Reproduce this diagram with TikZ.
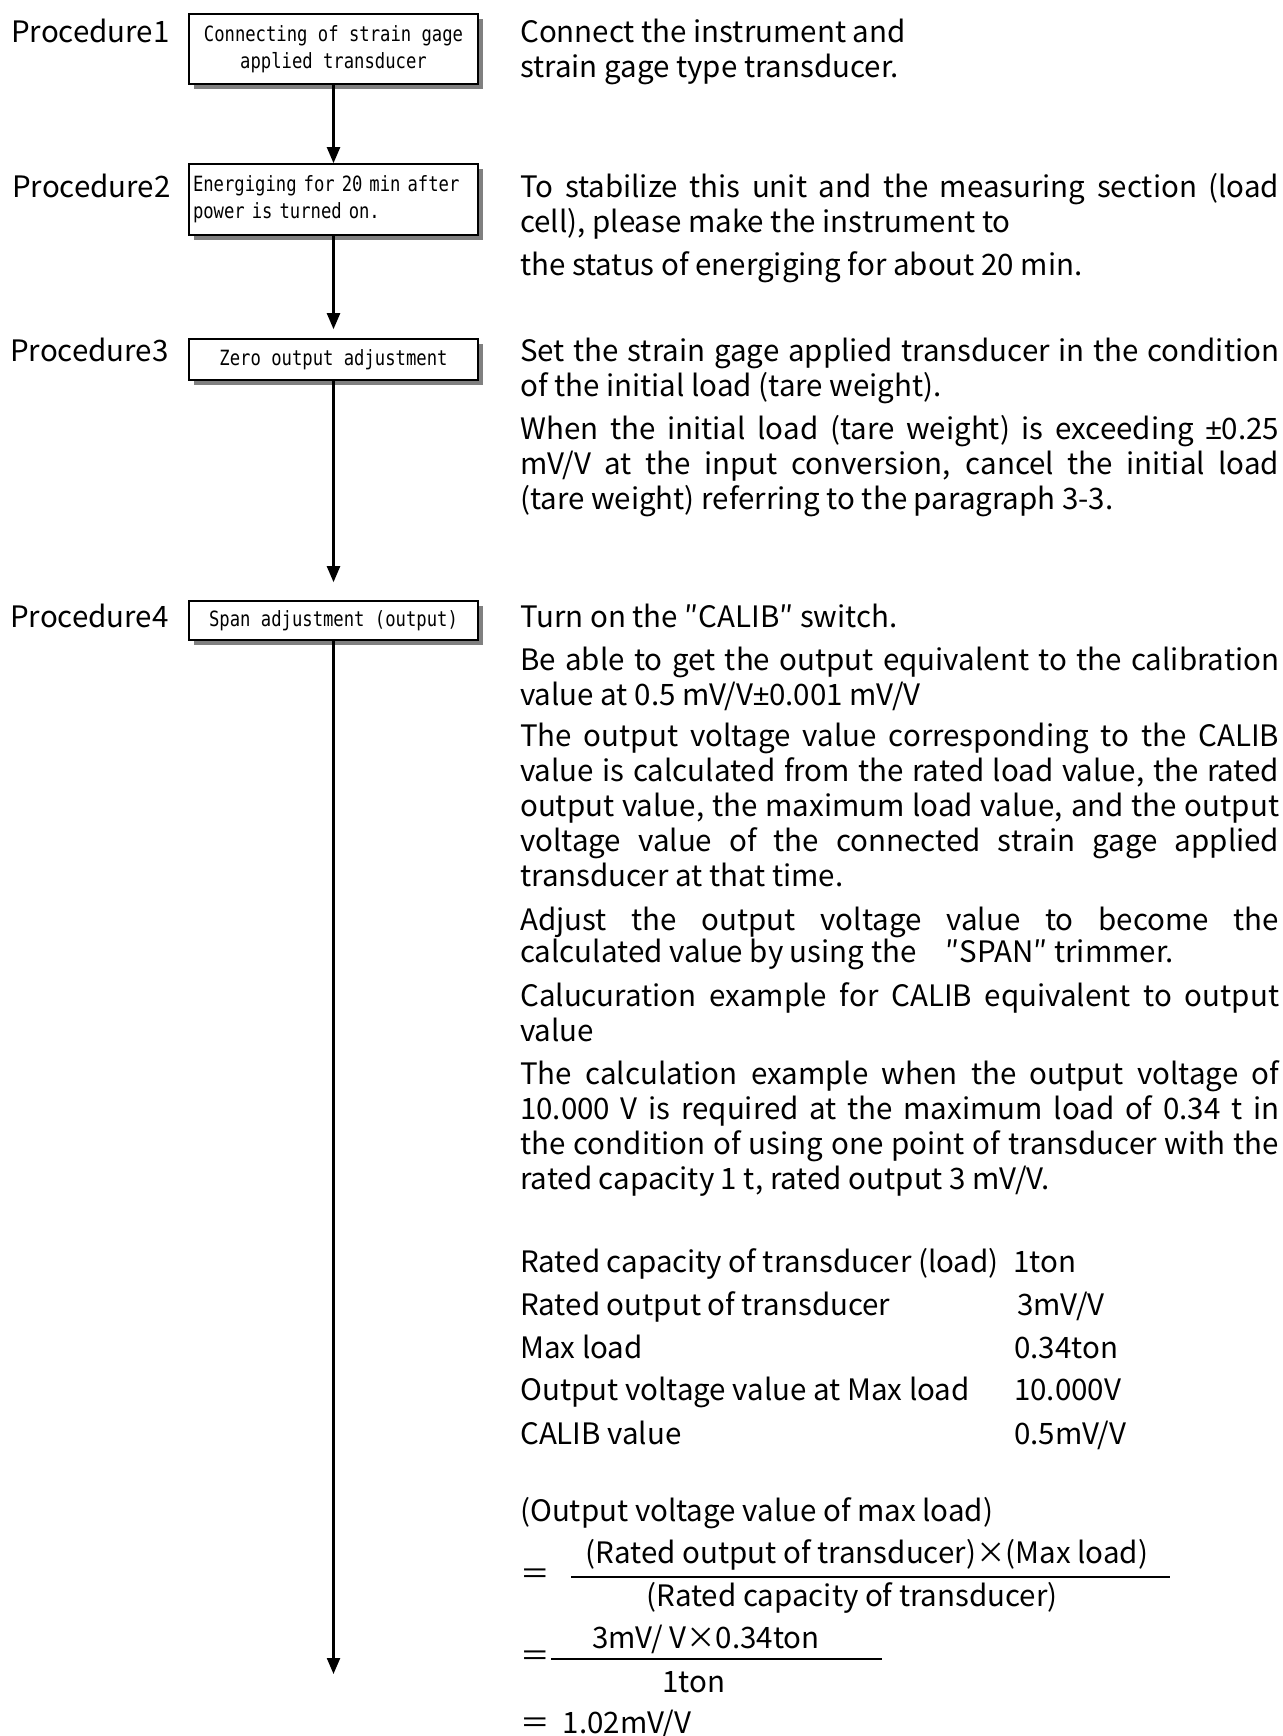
\documentclass[tikz,border=0pt]{standalone}
\usepackage{fontspec}
\setmainfont{Noto Sans CJK JP}
\newfontfamily\boxfont[FakeStretch=0.82]{DejaVu Sans Mono}
\newfontfamily\pmfont{Liberation Sans}
\newcommand{\pmsign}{{\pmfont ±}}
\usetikzlibrary{arrows.meta,shadows}

\tikzset{
  proc/.style={anchor=base west, inner sep=0pt, font=\fontsize{29.5}{35}\selectfont},
  stepbox/.style={draw, line width=1.6pt, fill=white, minimum width=289pt, inner sep=3pt,
    font=\fontsize{21}{27}\boxfont,
    drop shadow={shadow xshift=5pt, shadow yshift=-5pt, fill=black!50, opacity=1}},
  flow/.style={line width=2.2pt, -{Triangle[width=13pt,length=16pt]}},
  para/.style={anchor=base west, inner sep=0pt, text width=759pt, align=justify,
    font=\fontsize{29.5}{35}\selectfont},
  val/.style={anchor=base west, inner sep=0pt, font=\fontsize{29.5}{35}\selectfont}
}

\begin{document}
\begin{tikzpicture}[x=1pt, y=-1pt]
    \useasboundingbox (0,0) rectangle (1282,1736);

    % procedure labels
    \node [proc] (p1) at (11,43) {Procedure1};
    \node [proc] (p2) at (12,198) {Procedure2};
    \node [proc] (p3) at (10,361) {Procedure3};
    \node [proc] (p4) at (10,627) {Procedure4};

    % flow boxes
    \node [stepbox, minimum height=70pt, align=center] (box1) at (333.5,49) {Connecting of strain gage\\applied transducer};
    \node [stepbox, minimum height=71pt, text width=281pt, align=left] (box2) at (333.5,199.5) {Energiging for 20 min after\\power is turned on.};
    \node [stepbox, minimum height=41pt] (box3) at (333.5,359.5) {Zero output adjustment};
    \node [stepbox, minimum height=39pt] (box4) at (333.5,620.5) {Span adjustment (output)};
    \coordinate (end) at (333.5,1674);

    \draw [flow] (box1) -- (box2);
    \draw [flow, shorten >=9pt] (box2) -- (box3);
    \draw [flow, shorten >=18pt] (box3) -- (box4);
    \draw [flow] (box4) -- (end);

    % explanations
    \node [para] (t1) at (520,43) {Connect the instrument and\\strain gage type transducer.};
    \node [para] (t2a) at (520,198) {To stabilize this unit and the measuring section (load\linebreak cell), please make the instrument to};
    \node [para] (t2b) at (520,276) {the status of energiging for about 20 min.};
    \node [para] (t3a) at (520,361) {Set the strain gage applied transducer in the condition\linebreak of the initial load (tare weight).};
    \node [para] (t3b) at (520,439) {When the initial load (tare weight) is exceeding \pmsign0.25\linebreak mV/V at the input conversion, cancel the initial load\linebreak (tare weight) referring to the paragraph 3-3.};
    \node [para] (t4a) at (520,627) {Turn on the ″CALIB″ switch.};
    \node [para] (t4b) at (520,670) {Be able to get the output equivalent to the calibration\linebreak value at 0.5 mV/V\pmsign0.001 mV/V};
    \node [para] (t4c) at (520,746) {The output voltage value corresponding to the CALIB\linebreak value is calculated from the rated load value, the rated\linebreak output value, the maximum load value, and the output\linebreak voltage value of the connected strain gage applied\linebreak transducer at that time.};
    \node [para, font=\fontsize{29.5}{32}\selectfont] (t4d) at (520,930) {Adjust the output voltage value to become the\linebreak calculated value by using the\quad ″SPAN″ trimmer.};
    \node [para] (t4e) at (520,1006) {Calucuration example for CALIB equivalent to output\linebreak value};
    \node [para] (t4f) at (520,1084) {The calculation example when the output voltage of\linebreak 10.000 V is required at the maximum load of 0.34 t in\linebreak the condition of using one point of transducer with the\linebreak rated capacity 1 t, rated output 3 mV/V.};

    % example values
    \node [val] (r1) at (520,1272) {Rated capacity of transducer (load)};
    \node [val] (v1) at (1013,1272) {1ton};
    \node [val] (r2) at (520,1315) {Rated output of transducer};
    \node [val] (v2) at (1017,1315) {3mV/V};
    \node [val] (r3) at (520,1358) {Max load};
    \node [val] (v3) at (1014,1358) {0.34ton};
    \node [val] (r4) at (520,1400) {Output voltage value at Max load};
    \node [val] (v4) at (1014,1400) {10.000V};
    \node [val] (r5) at (520,1444) {CALIB value};
    \node [val] (v5) at (1014,1444) {0.5mV/V};

    % calculation
    \node [val] (f0) at (520,1521) {(Output voltage value of max load)};
    \node [val, anchor=west] (eq1) at (520,1577) {＝};
    \node [val, anchor=base] (n1) at (867,1563) {(Rated output of transducer)×(Max load)};
    \draw [line width=1.5pt] (571,1577) -- (1170,1577);
    \node [val, anchor=base] (d1) at (852,1606) {(Rated capacity of transducer)};
    \node [val, anchor=west] (eq2) at (520,1659) {＝};
    \node [val, anchor=base] (n2) at (706,1648) {3mV/ V×0.34ton};
    \draw [line width=1.5pt] (551,1659) -- (882,1659);
    \node [val, anchor=base] (d2) at (694,1692) {1ton};
    \node [val] (res) at (520,1733) {＝\ \ 1.02mV/V};
\end{tikzpicture}
\end{document}
